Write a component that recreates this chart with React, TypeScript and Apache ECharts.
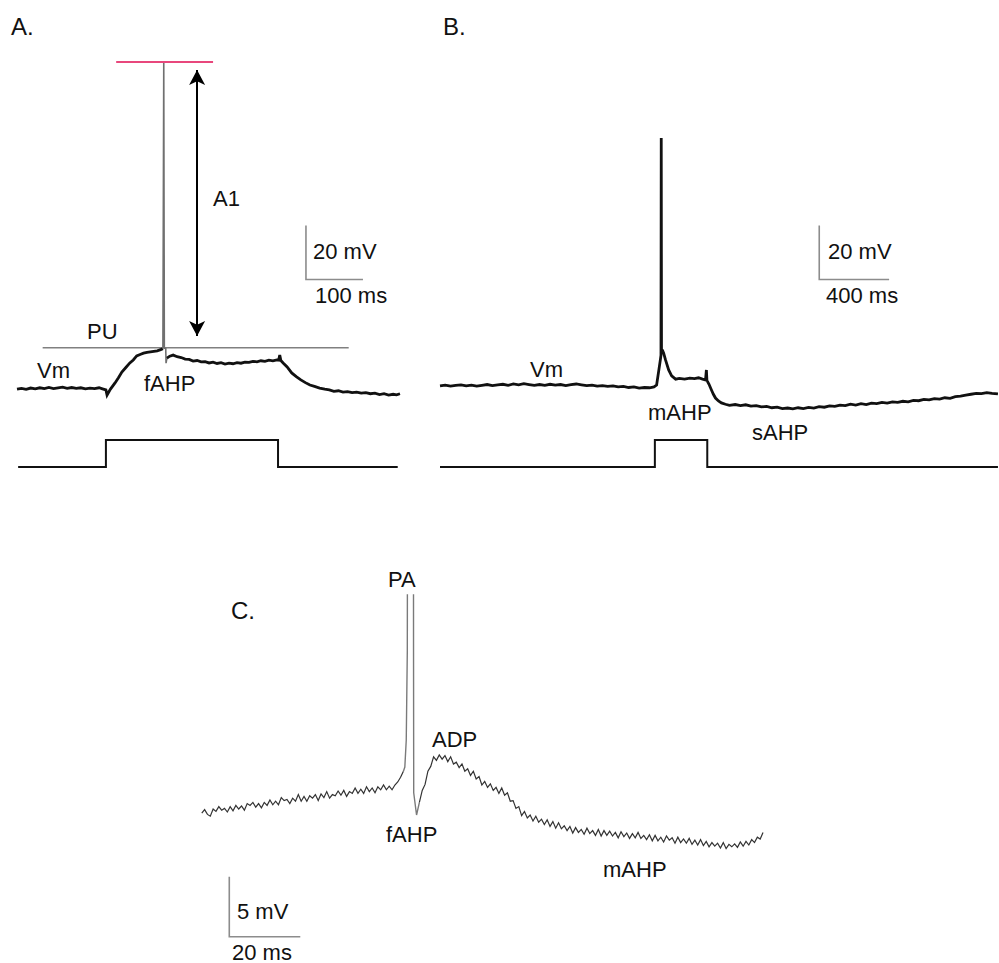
import React, { useEffect, useRef } from "react";
import * as echarts from "echarts";

// ---------- Panel A (time in ms, membrane potential in mV) ----------
const aTrace: number[][] = [
  [0, -65.6], [8, -65.3], [16, -65.7], [24, -65.2], [32, -65.5], [40, -65.1], [48, -65.4], [56, -65.0],
  [64, -65.4], [72, -65.1], [80, -64.9], [88, -65.3], [96, -65.0], [104, -65.3], [112, -65.1], [120, -65.5],
  [128, -65.2], [136, -65.4], [144, -65.1], [150, -65.5], [156, -65.9], [158, -67.8], [164, -65.6],
  [172, -63.3], [178, -61.4], [184, -59.3], [191, -57.6], [198, -55.9], [204, -54.8], [210, -53.3],
  [216, -52.8], [222, -52.3], [228, -52.0], [234, -51.8], [240, -51.6], [246, -51.4], [252, -51.0], [256, -50.6],
];
const aSpike: number[][] = [
  [256, -50.6], [257.5, 55.6], [258.5, -50.4], [261, -50.6], [261.5, -56.0], [263, -54.1],
];
const aTraceAfter: number[][] = [
  [263, -54.1], [268, -53.4], [274, -53.0], [281, -53.6], [288, -53.9], [295, -54.5], [302, -54.6],
  [309, -55.2], [316, -55.0], [323, -55.5], [330, -55.4], [337, -55.9], [344, -55.6], [351, -56.1],
  [358, -55.8], [365, -56.3], [372, -56.0], [379, -56.2], [386, -55.8], [393, -56.0], [400, -55.6],
  [407, -55.7], [414, -55.3], [421, -55.5], [428, -55.1], [435, -55.3], [442, -54.9], [449, -55.1],
  [456, -54.8], [459, -54.9], [461, -53.0], [463, -55.0], [467, -55.9], [474, -57.4], [482, -59.6],
  [490, -61.0], [498, -62.2], [506, -63.2], [514, -64.1], [522, -64.6], [531, -65.2], [540, -65.6],
  [548, -65.9], [556, -66.4], [564, -66.2], [572, -66.7], [580, -66.5], [588, -66.9], [596, -66.7],
  [604, -67.1], [612, -66.9], [620, -67.3], [628, -67.1], [636, -67.6], [644, -67.3], [652, -67.8],
  [660, -67.5], [666, -67.7], [672, -67.3],
];
const aPU: number[][] = [[45, -50.3], [582, -50.3]];
const aPeak: number[][] = [[174, 55.6], [344, 55.6]];
const aArrow = { t: 316, top: 52.6, bottom: -45.9 };
const aScaleBar: number[][] = [[507, -5], [507, -25], [607, -25]];
const aStep: number[][] = [[2, 0], [156, 0], [156, 100], [458, 100], [458, 0], [668, 0]];

// ---------- Panel B ----------
const bTrace: number[][] = [
  [0, -64.4], [30, -64.1], [60, -64.5], [90, -64.2], [120, -64.0], [150, -64.4], [180, -64.1], [210, -64.5],
  [240, -64.2], [270, -63.9], [300, -64.3], [330, -64.0], [360, -63.8], [390, -64.2], [420, -63.7],
  [450, -64.0], [480, -63.6], [510, -63.9], [540, -64.2], [570, -63.9], [600, -64.2], [630, -63.8],
  [660, -64.1], [690, -63.9], [720, -64.3], [750, -63.9], [780, -63.7], [810, -64.0], [840, -64.3],
  [870, -64.1], [900, -64.5], [930, -64.3], [960, -64.6], [990, -64.4], [1020, -64.8], [1050, -64.6],
  [1080, -65.0], [1110, -64.8], [1140, -65.2], [1170, -65.0], [1200, -65.1], [1225, -64.8], [1240, -64.1],
  [1251, -59.3], [1262, -54.5], [1265, -53.0], [1266.5, 27.4], [1268, -51.0], [1274, -51.3], [1280, -52.2],
  [1291, -54.8], [1309, -58.5], [1326, -60.7], [1349, -61.9], [1370, -61.6], [1400, -61.9], [1430, -61.5],
  [1457, -61.7], [1480, -61.4], [1503, -61.9], [1520, -62.2], [1525, -58.5], [1528, -62.4], [1540, -63.8],
  [1554, -65.9], [1565, -67.5], [1577, -68.9], [1594, -70.0], [1611, -70.7], [1634, -71.2], [1657, -71.6],
  [1690, -71.3], [1720, -71.7], [1750, -71.4], [1780, -71.9], [1810, -71.7], [1840, -72.2], [1870, -72.0],
  [1900, -72.5], [1930, -72.3], [1960, -72.8], [1990, -72.6], [2020, -72.9], [2050, -72.5], [2080, -72.8],
  [2110, -72.4], [2140, -72.6], [2170, -72.1], [2200, -72.3], [2230, -71.8], [2260, -72.0], [2290, -71.5],
  [2320, -71.7], [2350, -71.2], [2380, -71.5], [2410, -71.0], [2440, -71.3], [2470, -70.8], [2500, -71.0],
  [2530, -70.5], [2560, -70.8], [2590, -70.3], [2620, -70.5], [2650, -70.1], [2680, -70.3], [2710, -69.8],
  [2740, -69.9], [2770, -69.4], [2800, -69.6], [2830, -69.1], [2860, -69.3], [2890, -68.8], [2920, -69.0],
  [2950, -68.4], [2980, -68.2], [3010, -67.8], [3040, -67.5], [3070, -67.2], [3100, -67.3], [3130, -66.9],
  [3160, -67.2], [3194, -67.4],
];
const bScaleBar: number[][] = [[2171, -5], [2171, -25], [2571, -25]];
const bStep: number[][] = [[0, 0], [1230, 0], [1230, 100], [1530, 100], [1530, 0], [3194, 0]];

// ---------- Panel C (sampled every 0.8 ms) ----------
const C_DT = 0.8;
const cPreStart = 0.5;
const cPreValues: number[] = [
  -58.6, -58.3, -58.7, -58.85, -58.25, -58.45, -58.05, -58.35, -58.2, -58.5, -58.05, -58.4, -57.95,
  -58.25, -58.0, -58.35, -57.8, -57.95, -57.7, -58.1, -57.8, -58.15, -57.7, -57.95, -57.5, -57.9, -57.6,
  -57.9, -57.3, -57.55, -57.45, -57.8, -57.35, -57.6, -57.05, -57.6, -57.2, -57.6, -57.15, -57.35,
  -57.05, -57.55, -57.0, -57.3, -56.8, -57.35, -57.05, -57.15, -56.75, -57.1, -56.7, -57.2, -56.8,
  -56.95, -56.5, -56.95, -56.6, -56.95, -56.4, -56.8, -56.5, -56.9, -56.4, -56.65, -56.25, -56.65,
  -56.35, -56.65, -56.25, -56.0, -55.6, -55.1,
];
const cSpike: number[][] = [
  [57.3, -55.1], [57.7, -54.75], [58.1, -52.5], [58.4, -45], [58.5, -20], [58.7, 10], [59.3, 25],
  [59.9, 10], [60.1, -20], [60.15, -45], [60.2, -56.9], [61.0, -58.75], [61.8, -57.7],
];
const cPostStart = 61.8;
const cPostValues: number[] = [
  -57.7, -56.7, -56.2, -55.1, -54.7, -53.9, -54.2, -53.75, -54.1, -53.8, -54.3, -53.9, -54.5, -54.35,
  -54.8, -54.5, -55.1, -54.9, -55.45, -55.1, -55.75, -55.55, -56.25, -55.95, -56.45, -56.15, -56.7,
  -56.45, -56.95, -56.5, -57.1, -56.9, -57.6, -57.55, -58.2, -58.05, -58.8, -58.45, -59.0, -58.75,
  -59.25, -58.85, -59.35, -59.1, -59.55, -59.15, -59.7, -59.3, -59.85, -59.4, -59.9, -59.65, -60.05,
  -59.7, -60.25, -59.8, -60.2, -59.95, -60.35, -59.85, -60.3, -60.05, -60.45, -59.95, -60.5, -60.05,
  -60.45, -60.1, -60.5, -60.2, -60.65, -60.15, -60.55, -60.25, -60.7, -60.3, -60.65, -60.2, -60.7,
  -60.45, -60.8, -60.4, -60.9, -60.45, -60.9, -60.6, -61.0, -60.5, -60.85, -60.65, -61.1, -60.6, -61.05,
  -60.75, -61.1, -60.7, -61.2, -60.85, -61.25, -60.8, -61.3, -60.95, -61.4, -61.05, -61.35, -61.1,
  -61.5, -61.05, -61.55, -61.2, -61.4, -61.15, -61.45, -61.0, -61.35, -60.95, -61.25, -60.8, -61.05,
  -60.6, -60.75, -60.2,
];
const cScaleBar: number[][] = [[8.25, -63.9], [8.25, -68.9], [28.25, -68.9]];

// ---------- Annotation texts ----------
const labels = [
  { text: "A.", x: 11, y: 26, size: 24 },
  { text: "A1", x: 213, y: 198, size: 22 },
  { text: "20 mV", x: 313, y: 251, size: 22 },
  { text: "100 ms", x: 315, y: 295, size: 22 },
  { text: "PU", x: 87, y: 331, size: 22 },
  { text: "Vm", x: 37, y: 370, size: 22 },
  { text: "fAHP", x: 144, y: 383, size: 22 },
  { text: "B.", x: 443, y: 26, size: 24 },
  { text: "20 mV", x: 828, y: 251, size: 22 },
  { text: "400 ms", x: 826, y: 295, size: 22 },
  { text: "Vm", x: 530, y: 369, size: 22 },
  { text: "mAHP", x: 648, y: 412, size: 22 },
  { text: "sAHP", x: 752, y: 432, size: 22 },
  { text: "C.", x: 231, y: 610, size: 24 },
  { text: "PA", x: 388, y: 579, size: 22 },
  { text: "ADP", x: 432, y: 739, size: 22 },
  { text: "fAHP", x: 386, y: 834, size: 22 },
  { text: "mAHP", x: 603, y: 869, size: 22 },
  { text: "5 mV", x: 237, y: 911, size: 22 },
  { text: "20 ms", x: 232, y: 952, size: 22 },
];

const FONT = '"Liberation Sans", Arial, Helvetica, sans-serif';

function lineSeries(data: number[][], axis: number, color: string, width: number, extra: any = {}) {
  return {
    type: "line",
    data,
    xAxisIndex: axis,
    yAxisIndex: axis,
    symbol: "none",
    silent: true,
    animation: false,
    lineStyle: { color, width, cap: "butt", join: "miter" },
    ...extra,
  };
}

export default function App() {
  const ref = useRef<HTMLDivElement>(null);
  useEffect(() => {
    if (!ref.current) return;
    const chart = echarts.init(ref.current, undefined, { renderer: "svg" });
    const hidden = (min: number, max: number) => ({ type: "value", min, max, show: false });
    const cPre = cPreValues.map((v, i) => [cPreStart + i * C_DT, v]);
    const cPost = cPostValues.map((v, i) => [cPostStart + i * C_DT, v]);
    const option: any = {
      animation: false,
      backgroundColor: "#ffffff",
      grid: [
        { left: 17, top: 50, width: 383, height: 432 },
        { left: 17, top: 440, width: 383, height: 27 },
        { left: 440, top: 50, width: 560, height: 432 },
        { left: 440, top: 440, width: 560, height: 27 },
        { left: 200, top: 595, width: 568, height: 355 },
      ],
      xAxis: [
        { ...hidden(0, 672), gridIndex: 0 },
        { ...hidden(0, 672), gridIndex: 1 },
        { ...hidden(0, 3200), gridIndex: 2 },
        { ...hidden(0, 3200), gridIndex: 3 },
        { ...hidden(0, 160), gridIndex: 4 },
      ],
      yAxis: [
        { ...hidden(-100, 60), gridIndex: 0 },
        { ...hidden(0, 100), gridIndex: 1 },
        { ...hidden(-100, 60), gridIndex: 2 },
        { ...hidden(0, 100), gridIndex: 3 },
        { ...hidden(-70, -40.4167), gridIndex: 4 },
      ],
      series: [
        lineSeries(aPU, 0, "#808080", 1.6, { clip: false }),
        lineSeries(aTrace, 0, "#111111", 2.8),
        lineSeries(aSpike, 0, "#707070", 1.6),
        lineSeries(aTraceAfter, 0, "#111111", 2.8),
        lineSeries(aPeak, 0, "#e8477c", 2, {
          clip: false,
          markLine: {
            silent: true,
            animation: false,
            symbol: ["arrow", "arrow"],
            symbolSize: [12, 15],
            label: { show: false },
            lineStyle: { color: "#000000", width: 2, type: "solid" },
            data: [[{ coord: [aArrow.t, aArrow.top] }, { coord: [aArrow.t, aArrow.bottom] }]],
          },
        }),
        lineSeries(aScaleBar, 0, "#8c8c8c", 1.6, { clip: false }),
        lineSeries(aStep, 1, "#111111", 2, { clip: false }),
        lineSeries(bTrace, 2, "#111111", 2.8),
        lineSeries(bScaleBar, 2, "#8c8c8c", 1.6, { clip: false }),
        lineSeries(bStep, 3, "#111111", 2, { clip: false }),
        lineSeries(cPre, 4, "#333333", 1.2, { clip: true }),
        lineSeries(cSpike, 4, "#7a7a7a", 1.4, { clip: true }),
        lineSeries(cPost, 4, "#333333", 1.2, { clip: true }),
        lineSeries(cScaleBar, 4, "#8c8c8c", 1.6, { clip: false }),
      ],
      graphic: labels.map((l) => ({
        type: "text",
        x: l.x,
        y: l.y,
        silent: true,
        style: {
          text: l.text,
          fontSize: l.size,
          fontFamily: FONT,
          fill: "#111111",
          align: "left",
          verticalAlign: "middle",
        },
      })),
    };
    chart.setOption(option);
    return () => chart.dispose();
  }, []);
  return (
    <div
      ref={ref}
      style={{ position: "absolute", left: 0, top: 0, width: 999, height: 963, background: "#fff" }}
    />
  );
}
